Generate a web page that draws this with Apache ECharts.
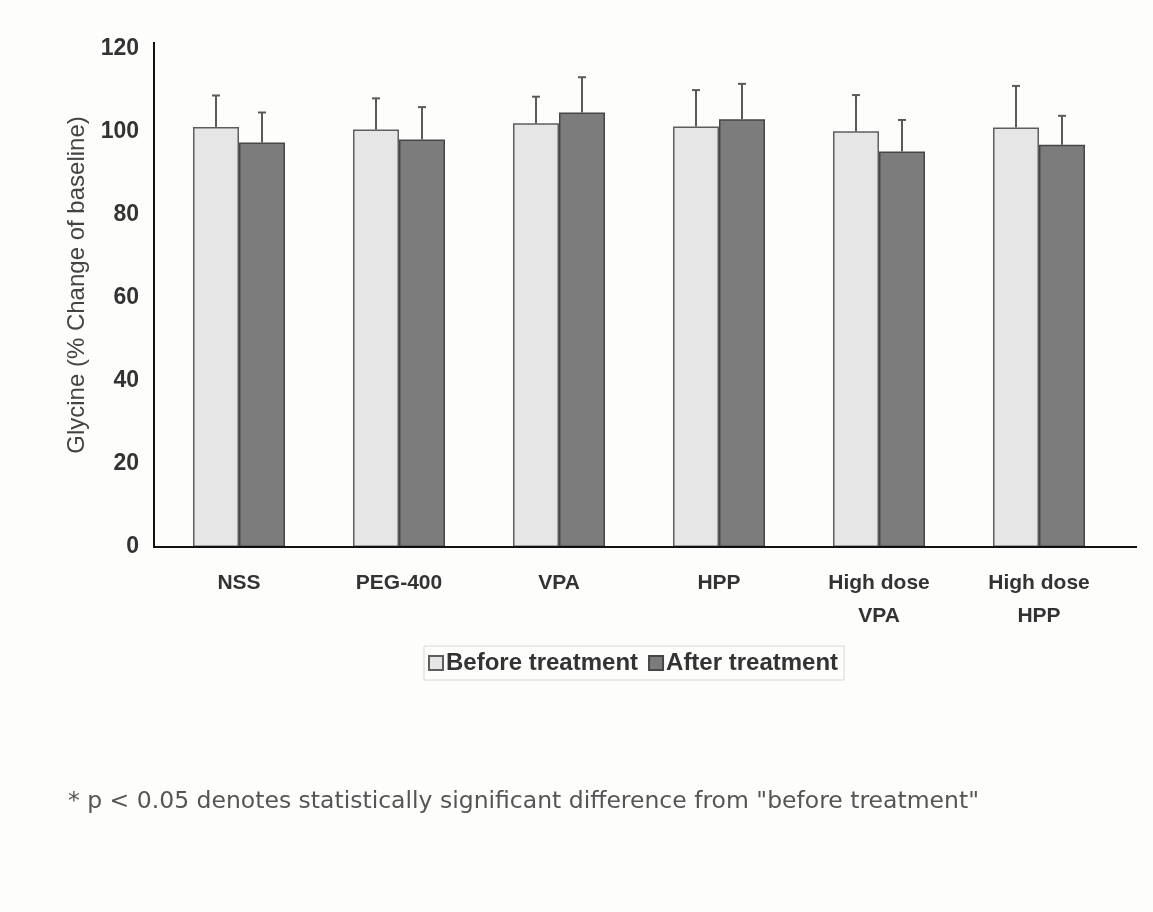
<!DOCTYPE html>
<html>
<head>
<meta charset="utf-8">
<script src="https://cdn.jsdelivr.net/npm/echarts@6/dist/echarts.min.js"></script>
<style>
html,body{margin:0;padding:0;background:#fdfdfc;}
#chart{width:1153px;height:912px;}
</style>
</head>
<body>
<div id="chart"></div>
<script>
const categories = ['NSS', 'PEG-400', 'VPA', 'HPP', 'High dose\nVPA', 'High dose\nHPP'];
const seriesNames = ['Before treatment', 'After treatment'];
const beforeValues = [101.2, 100.6, 102.1, 101.3, 100.2, 101.1];
const beforeErrors = [7.6, 7.5, 6.4, 8.8, 8.7, 10.0];
const afterValues = [97.5, 98.2, 104.7, 103.1, 95.3, 96.9];
const afterErrors = [7.2, 7.8, 8.5, 8.5, 7.6, 7.0];
const yTicks = [0, 20, 40, 60, 80, 100, 120];
const yTitle = 'Glycine (% Change of baseline)';
const footnote = '* p < 0.05 denotes statistically significant difference from "before treatment"';

const BAR_W = 46;
const chart = echarts.init(document.getElementById('chart'));

function errorSeries(values, errors, side, name) {
  return {
    type: 'custom',
    name: name + ' error',
    z: 5,
    silent: true,
    data: values.map((v, i) => [i, v, v + errors[i]]),
    renderItem: function (params, api) {
      const base = api.coord([api.value(0), api.value(1)]);
      const top = api.coord([api.value(0), api.value(2)]);
      const x = base[0] + side * BAR_W / 2;
      const style = { stroke: '#5a5a5a', lineWidth: 2 };
      return {
        type: 'group',
        children: [
          { type: 'line', shape: { x1: x, y1: base[1], x2: x, y2: top[1] }, style: style },
          { type: 'line', shape: { x1: x - 4, y1: top[1], x2: x + 4, y2: top[1] }, style: style }
        ]
      };
    }
  };
}

const option = {
  backgroundColor: '#fdfdfc',
  animation: false,
  grid: { left: 159, right: 34, top: 49, bottom: 365 },
  legend: {
    data: seriesNames,
    left: 424,
    top: 646,
    icon: 'rect',
    itemWidth: 14,
    itemHeight: 14,
    itemGap: 10,
    padding: [5, 6, 5, 4],
    borderColor: '#d8d8d8',
    borderWidth: 1,
    textStyle: { fontFamily: 'Liberation Sans', fontWeight: 'bold', fontSize: 24, color: '#333', padding: [0, 0, 0, -2] }
  },
  xAxis: {
    type: 'category',
    data: categories,
    axisLine: { show: false },
    axisTick: { show: false },
    axisLabel: {
      margin: 20,
      interval: 0,
      fontFamily: 'Liberation Sans',
      fontWeight: 'bold',
      fontSize: 21,
      lineHeight: 33,
      color: '#333'
    }
  },
  yAxis: {
    type: 'value',
    min: 0,
    max: 120,
    interval: 20,
    offset: 5,
    axisLine: { show: false },
    axisTick: { show: false },
    splitLine: { show: false },
    name: yTitle,
    nameLocation: 'middle',
    nameGap: 65,
    nameTextStyle: { fontFamily: 'Liberation Sans', fontSize: 24, color: '#444', padding: [0, 0, 0, 26] },
    axisLabel: {
      margin: 15,
      fontFamily: 'Liberation Sans',
      fontWeight: 'bold',
      fontSize: 23,
      color: '#333',
      formatter: function (v) { return yTicks.indexOf(v) >= 0 ? String(v) : ''; }
    }
  },
  series: [
    {
      name: seriesNames[0],
      type: 'bar',
      data: beforeValues,
      barWidth: BAR_W,
      barGap: '0%',
      itemStyle: { color: '#e6e6e6', borderColor: '#5e5e5e', borderWidth: 1.5 }
    },
    {
      name: seriesNames[1],
      type: 'bar',
      data: afterValues,
      barWidth: BAR_W,
      barGap: '0%',
      itemStyle: { color: '#7c7c7c', borderColor: '#464646', borderWidth: 1.5 }
    },
    errorSeries(beforeValues, beforeErrors, -1, seriesNames[0]),
    errorSeries(afterValues, afterErrors, 1, seriesNames[1])
  ]
};
chart.setOption(option);

// axis lines (drawn from the axes' own pixel positions)
const y0 = chart.convertToPixel({ yAxisIndex: 0 }, 0);
const yTop = chart.convertToPixel({ yAxisIndex: 0 }, 120);
const xFirst = chart.convertToPixel({ xAxisIndex: 0 }, 0);
const xLast = chart.convertToPixel({ xAxisIndex: 0 }, categories.length - 1);
const catW = xFirst !== xLast ? (xLast - xFirst) / (categories.length - 1) : 160;
const axisX = xFirst - catW / 2 - 5;
const axisRight = xLast + catW / 2 + 18;
chart.setOption({
  graphic: [
    { type: 'line', z: 10, shape: { x1: axisX, y1: yTop - 7, x2: axisX, y2: y0 }, style: { stroke: '#111', lineWidth: 2 } },
    { type: 'line', z: 10, shape: { x1: axisX - 1, y1: y0, x2: axisRight, y2: y0 }, style: { stroke: '#111', lineWidth: 2 } },
    { type: 'text', left: 68, top: 790, style: { text: footnote, fontFamily: 'DejaVu Sans', fontSize: 23.5, fill: '#555' } }
  ]
});
</script>
</body>
</html>
